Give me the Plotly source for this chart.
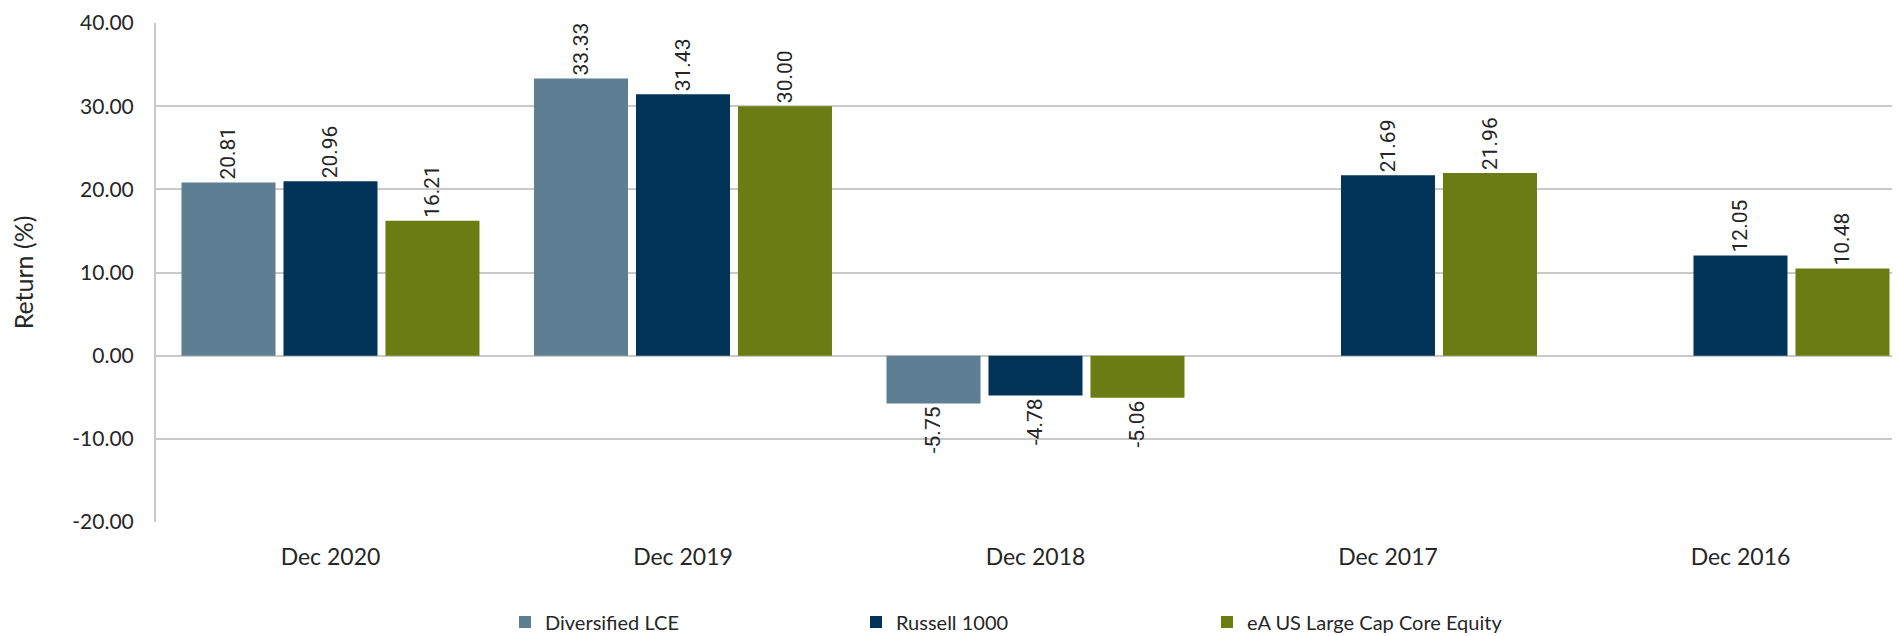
import plotly.graph_objects as go

categories = ["Dec 2020", "Dec 2019", "Dec 2018", "Dec 2017", "Dec 2016"]
diversified_lce = [20.81, 33.33, -5.75, None, None]
russell_1000 = [20.96, 31.43, -4.78, 21.69, 12.05]
ea_us_large_cap = [16.21, 30.00, -5.06, 21.96, 10.48]
series_names = ["Diversified LCE", "Russell 1000", "eA US Large Cap Core Equity"]
y_ticks = [-20, -10, 0, 10, 20, 30, 40]

colors = ["#5E7F93", "#023459", "#6B7D12"]
label_font = dict(family="Roboto", size=21, color="#262626")
axis_font = "Lato"

# page body has an 8px default margin, so the figure is sized to fit the window
W, H = 1892, 628

fig = go.Figure()
for name, vals, col in zip(series_names, [diversified_lce, russell_1000, ea_us_large_cap], colors):
    fig.add_trace(go.Bar(
        name=name, x=categories, y=vals,
        marker=dict(color=col, line=dict(width=0)),
        text=[None if v is None else f"{v:.2f}" for v in vals],
        textposition="outside", textangle=-90,
        textfont=label_font, cliponaxis=False,
    ))

fig.update_layout(
    width=W, height=H,
    margin=dict(l=148, r=0, t=15, b=114, autoexpand=False),
    plot_bgcolor="white", paper_bgcolor="white",
    barmode="group", bargap=0.132, bargroupgap=0.078,
    showlegend=True,
    legend=dict(
        orientation="h", xref="container", yref="container",
        x=497/W, y=14/H, xanchor="left", yanchor="middle",
        font=dict(family=axis_font, size=20, color="#262626"),
        entrywidth=306, entrywidthmode="pixels",
        traceorder="normal", bgcolor="rgba(0,0,0,0)",
    ),
    font=dict(family=axis_font, color="#262626"),
)
fig.update_xaxes(
    range=[-0.495, -0.495 + (W - 148) / 352.5],
    showgrid=False, showline=False, ticks="",
    tickfont=dict(family=axis_font, size=23, color="#262626"),
    ticklabelstandoff=19, automargin=False,
)
fig.update_yaxes(
    range=[-20, 40], tickvals=y_ticks,
    ticktext=[f"{v:.2f}" for v in y_ticks],
    showgrid=True, gridcolor="#C9C9C9", gridwidth=2,
    zeroline=True, zerolinecolor="#C9C9C9", zerolinewidth=2,
    showline=True, linecolor="#C9C9C9", linewidth=2,
    ticks="", ticklabelstandoff=16,
    tickfont=dict(family=axis_font, size=21, color="#262626"),
    title=dict(text="Return (%)", font=dict(family=axis_font, size=25, color="#262626"), standoff=45),
    automargin=False,
)

fig.write_html("out.html")
